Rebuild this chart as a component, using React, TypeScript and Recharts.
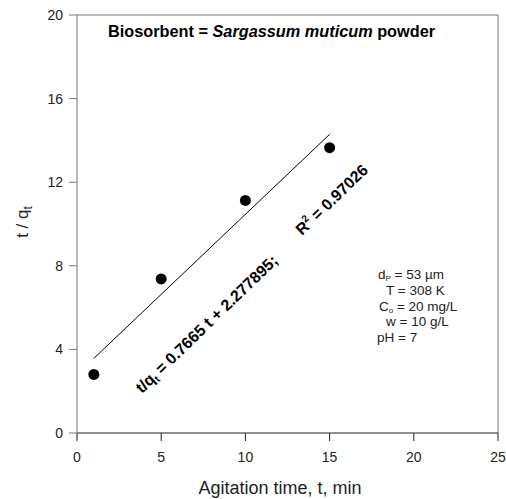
import { ComposedChart, Scatter, XAxis, YAxis, ReferenceLine } from "recharts"

// measured t/qt values vs agitation time
const times = [1, 5, 10, 15]
const tOverQ = [2.8, 7.37, 11.13, 13.65]

// fitted straight line
const fitTimes = [1, 15]
const fitValues = [3.57, 14.29]

const xTicks = [0, 5, 10, 15, 20, 25]
const yTicks = [0, 4, 8, 12, 16, 20]

const points = times.map((t, i) => ({ x: t, y: tOverQ[i] }))
const fitLine = fitTimes.map((t, i) => ({ x: t, y: fitValues[i] }))

const font = "'Liberation Sans', Arial, sans-serif"
const tickStyle = { fontSize: 14, fill: "#222", fontFamily: font }

export default function App() {
  return (
    <div style={{ position: "absolute", left: 0, top: 0, width: 506, height: 499 }}>
      <ComposedChart width={506} height={499} margin={{ top: 15, right: 8, bottom: 0, left: 0 }}>
        <XAxis
          type="number"
          dataKey="x"
          domain={[0, 25]}
          ticks={xTicks}
          height={66}
          tickSize={8}
          tickMargin={11}
          stroke="#222"
          tick={tickStyle}
          allowDataOverflow
        />
        <YAxis
          type="number"
          dataKey="y"
          domain={[0, 20]}
          ticks={yTicks}
          width={77}
          tickSize={8}
          tickMargin={6}
          stroke="#777"
          tick={tickStyle}
          allowDataOverflow
        />
        {/* frame: top and right edges */}
        <ReferenceLine y={20} stroke="#777" />
        <ReferenceLine x={25} stroke="#777" />
        <Scatter
          data={fitLine}
          line={{ stroke: "#000", strokeWidth: 1 }}
          shape={() => null}
          isAnimationActive={false}
        />
        <Scatter data={points} fill="#000" shape={(p: any) => <circle cx={p.cx} cy={p.cy} r={5.5} fill="#000" />} isAnimationActive={false} />
      </ComposedChart>

      <svg width={506} height={499} style={{ position: "absolute", left: 0, top: 0, pointerEvents: "none" }} fontFamily={font}>
        <text x={108} y={37} fontSize={16.3} fontWeight="bold" fill="#000">
          Biosorbent = <tspan fontStyle="italic">Sargassum muticum</tspan> powder
        </text>

        <text transform="translate(28,222) rotate(-90)" textAnchor="middle" fontSize={17} fill="#222">
          t / q<tspan fontSize={12} dy={4}>t</tspan>
        </text>
        <text x={280} y={494} textAnchor="middle" fontSize={18} fill="#222">
          Agitation time, t, min
        </text>

        <text transform="translate(142,394) rotate(-44)" fontSize={16} fontWeight="bold" fill="#000">
          t/q<tspan fontSize={10} dy={3}>t</tspan>
          <tspan dy={-3}> = 0.7665 t + 2.277895;</tspan>
        </text>
        <text transform="translate(302,236) rotate(-44)" fontSize={16} fontWeight="bold" fill="#000">
          R<tspan fontSize={10} dy={-7}>2</tspan>
          <tspan dy={7}> = 0.97026</tspan>
        </text>

        <g fontSize={13.5} fill="#222">
          <text x={378} y={279}>
            d<tspan fontSize={8} dy={2}>P</tspan>
            <tspan dy={-2}> = 53 µm</tspan>
          </text>
          <text x={386} y={295}>T = 308 K</text>
          <text x={379} y={311}>
            C<tspan fontSize={8} dy={2}>o</tspan>
            <tspan dy={-2}> = 20 mg/L</tspan>
          </text>
          <text x={386} y={326}>w = 10 g/L</text>
          <text x={377} y={342}>pH = 7</text>
        </g>
      </svg>
    </div>
  )
}
